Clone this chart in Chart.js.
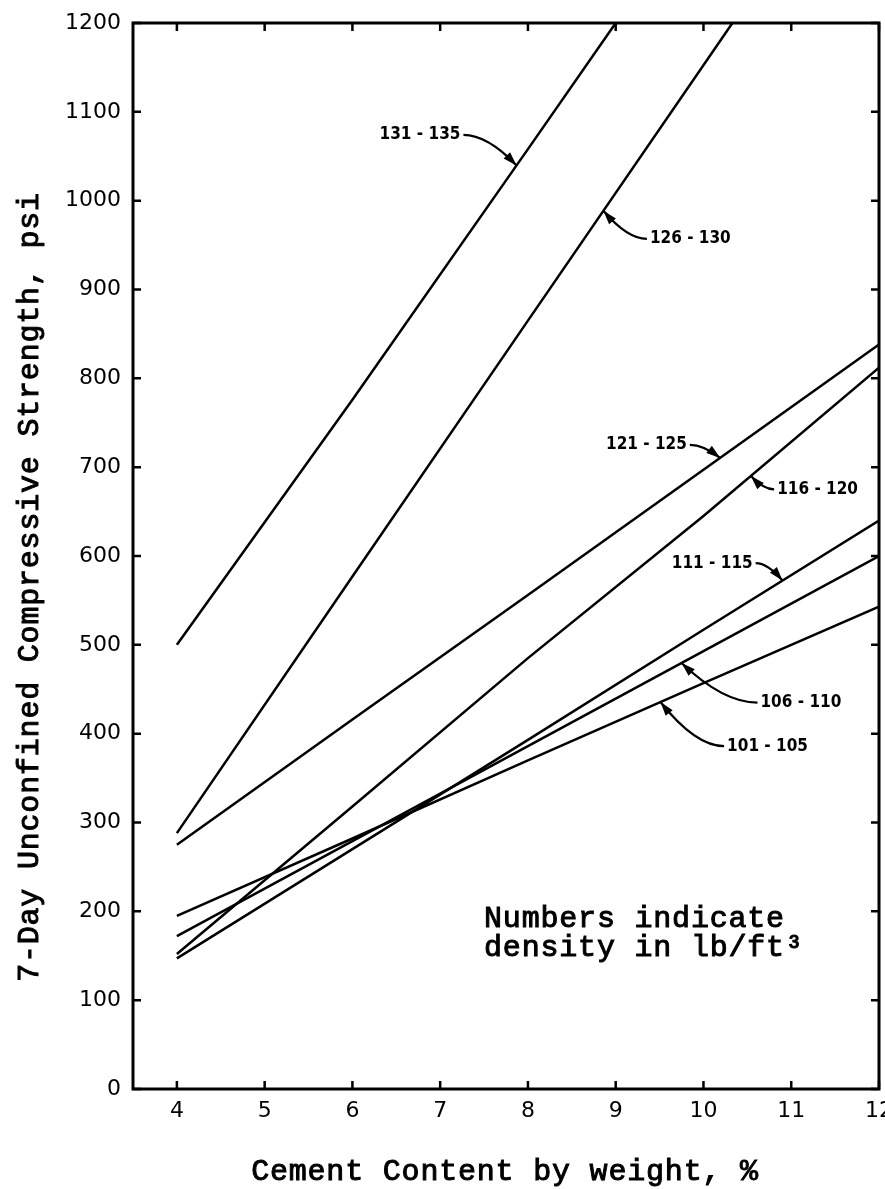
<!DOCTYPE html>
<html>
<head>
<meta charset="utf-8">
<script src="https://cdn.jsdelivr.net/npm/chart.js@4/dist/chart.umd.min.js"></script>
<style>
  html, body { margin: 0; padding: 0; background: #fff; }
  #wrap { width: 885px; height: 1189px; position: relative; }
</style>
</head>
<body>
<div id="wrap"><canvas id="chart"></canvas></div>
<script>
// Achsen-Ticks
const xTicks = [4, 5, 6, 7, 8, 9, 10, 11, 12];
const yTicks = [0, 100, 200, 300, 400, 500, 600, 700, 800, 900, 1000, 1100, 1200];

// Dichtegruppen (lb/ft3)
const densityLabels = ["131 - 135", "126 - 130", "121 - 125", "116 - 120", "111 - 115", "106 - 110", "101 - 105"];

// Zementgehalt (%) und Festigkeit (psi) je Kurve
const x131 = [4, 6, 8, 9];
const y131 = [500, 776, 1058, 1200];
const x126 = [4, 6, 8, 10.33];
const y126 = [288, 577, 865, 1200];
const x121 = [4, 6, 8, 10, 12];
const y121 = [275, 416, 556, 697, 838];
const x116 = [4, 6, 8, 10, 12];
const y116 = [152, 318, 485, 645, 812];
const x111 = [4, 6, 8, 10, 12];
const y111 = [147, 270, 393, 517, 640];
const x106 = [4, 6, 8, 10, 12];
const y106 = [172, 279, 386, 493, 600];
const x101 = [4, 6, 8, 10, 12];
const y101 = [195, 282, 370, 457, 543];

const curveX = [x131, x126, x121, x116, x111, x106, x101];
const curveY = [y131, y126, y121, y116, y111, y106, y101];

// Beschriftungen: Textmitte (Datenwerte) und x der Pfeilspitze auf der Kurve
const labelSpots = [
  { tx: 6.77, ty: 1074, tipX: 7.87 },
  { tx: 9.85, ty: 957, tipX: 8.86 },
  { tx: 9.35, ty: 725, tipX: 10.19 },
  { tx: 11.30, ty: 675, tipX: 10.54 },
  { tx: 10.10, ty: 592, tipX: 10.90 },
  { tx: 11.11, ty: 435, tipX: 9.75 },
  { tx: 10.73, ty: 386, tipX: 9.51 }
];

const noteLines = ["Numbers indicate", "density in lb/ft\u00B3"];
const xTitle = "Cement Content by weight, %";
const yTitle = "7-Day Unconfined Compressive Strength, psi";

const monoFont = '30px "Liberation Mono", "Courier New", monospace';
const tickFont = { family: "DejaVu Sans", size: 22 };

function interp(xs, ys, x) {
  for (let i = 0; i < xs.length - 1; i++) {
    if (x >= xs[i] && x <= xs[i + 1]) {
      const t = (x - xs[i]) / (xs[i + 1] - xs[i]);
      return ys[i] + t * (ys[i + 1] - ys[i]);
    }
  }
  return ys[ys.length - 1];
}

// Schreibmaschinenschrift etwas kräftiger zeichnen
function typeText(ctx, text, x, y) {
  ctx.fillText(text, x, y);
  ctx.strokeText(text, x, y);
}

// Rahmen mit nach innen zeigenden Ticks
const framePlugin = {
  id: "frame",
  afterDatasetsDraw(chart) {
    const { ctx, chartArea: a, scales: { x, y } } = chart;
    ctx.save();
    ctx.strokeStyle = "#000";
    ctx.lineWidth = 3;
    ctx.strokeRect(a.left, a.top, a.right - a.left, a.bottom - a.top);
    ctx.lineWidth = 2.5;
    const tl = 8;
    ctx.beginPath();
    xTicks.forEach(v => {
      const px = x.getPixelForValue(v);
      ctx.moveTo(px, a.bottom); ctx.lineTo(px, a.bottom - tl);
      ctx.moveTo(px, a.top); ctx.lineTo(px, a.top + tl);
    });
    yTicks.forEach(v => {
      const py = y.getPixelForValue(v);
      ctx.moveTo(a.left, py); ctx.lineTo(a.left + tl, py);
      ctx.moveTo(a.right, py); ctx.lineTo(a.right - tl, py);
    });
    ctx.stroke();
    ctx.restore();
  }
};

// Kurvenbeschriftungen mit Pfeilen, Achsentitel, Hinweistext
const textPlugin = {
  id: "texts",
  afterDraw(chart) {
    const { ctx, scales: { x, y } } = chart;
    ctx.save();
    ctx.fillStyle = "#000";
    ctx.strokeStyle = "#000";

    ctx.font = 'bold 17px "DejaVu Sans Condensed", "Liberation Sans Narrow", "DejaVu Sans", sans-serif';
    ctx.textAlign = "center";
    ctx.textBaseline = "middle";
    labelSpots.forEach((s, i) => {
      const tx = x.getPixelForValue(s.tx);
      const ty = y.getPixelForValue(s.ty);
      const tipX = x.getPixelForValue(s.tipX);
      const tipY = y.getPixelForValue(interp(curveX[i], curveY[i], s.tipX));
      const w = ctx.measureText(densityLabels[i]).width;
      ctx.fillText(densityLabels[i], tx, ty);
      const sx = tipX > tx ? tx + w / 2 + 3 : tx - w / 2 - 3;
      const sy = ty;
      const cx = sx + (tipX - sx) * 0.45;
      const cy = sy;
      ctx.lineWidth = 2.2;
      ctx.beginPath();
      ctx.moveTo(sx, sy);
      ctx.quadraticCurveTo(cx, cy, tipX, tipY);
      ctx.stroke();
      const ang = Math.atan2(tipY - cy, tipX - cx);
      ctx.beginPath();
      ctx.moveTo(tipX, tipY);
      ctx.lineTo(tipX - 14 * Math.cos(ang) + 4.5 * Math.sin(ang), tipY - 14 * Math.sin(ang) - 4.5 * Math.cos(ang));
      ctx.lineTo(tipX - 14 * Math.cos(ang) - 4.5 * Math.sin(ang), tipY - 14 * Math.sin(ang) + 4.5 * Math.cos(ang));
      ctx.closePath();
      ctx.fill();
    });

    ctx.font = monoFont;
    ctx.lineWidth = 1;
    if ("letterSpacing" in ctx) ctx.letterSpacing = "0.8px";
    ctx.textBaseline = "alphabetic";

    // x-Achsentitel
    ctx.textAlign = "center";
    typeText(ctx, xTitle, 505, 1180);

    // y-Achsentitel
    ctx.save();
    ctx.translate(38, 587);
    ctx.rotate(-Math.PI / 2);
    typeText(ctx, yTitle, 0, 0);
    ctx.restore();

    // Hinweis
    ctx.textAlign = "left";
    const nx = x.getPixelForValue(7.5);
    typeText(ctx, noteLines[0], nx, y.getPixelForValue(182));
    typeText(ctx, noteLines[1], nx, y.getPixelForValue(150));
    ctx.restore();
  }
};

const ctx = document.getElementById("chart").getContext("2d");
new Chart(ctx, {
  type: "line",
  data: {
    datasets: densityLabels.map((lbl, i) => ({
      label: lbl,
      data: curveX[i].map((v, j) => ({ x: v, y: curveY[i][j] })),
      borderColor: "#000",
      borderWidth: 2.5,
      pointRadius: 0,
      tension: 0,
      fill: false
    }))
  },
  options: {
    responsive: true,
    maintainAspectRatio: false,
    animation: false,
    layout: { padding: { top: 23, right: 6, left: 0, bottom: 0 } },
    plugins: { legend: { display: false }, tooltip: { enabled: false } },
    scales: {
      x: {
        type: "linear",
        min: 3.5,
        max: 12,
        afterBuildTicks: s => { s.ticks = xTicks.map(v => ({ value: v })); },
        afterFit: s => { s.height = 100; s.paddingLeft = 0; s.paddingRight = 0; },
        grid: { display: false, drawTicks: false },
        border: { display: false },
        ticks: { font: tickFont, color: "#000", padding: 9, maxRotation: 0, autoSkip: false, callback: v => String(v) }
      },
      y: {
        type: "linear",
        min: 0,
        max: 1200,
        afterBuildTicks: s => { s.ticks = yTicks.map(v => ({ value: v })); },
        afterFit: s => { s.width = 133; s.paddingTop = 0; s.paddingBottom = 0; },
        grid: { display: false, drawTicks: false },
        border: { display: false },
        ticks: { font: tickFont, color: "#000", padding: 12, autoSkip: false, callback: v => String(v) }
      }
    }
  },
  plugins: [framePlugin, textPlugin]
});
</script>
</body>
</html>
